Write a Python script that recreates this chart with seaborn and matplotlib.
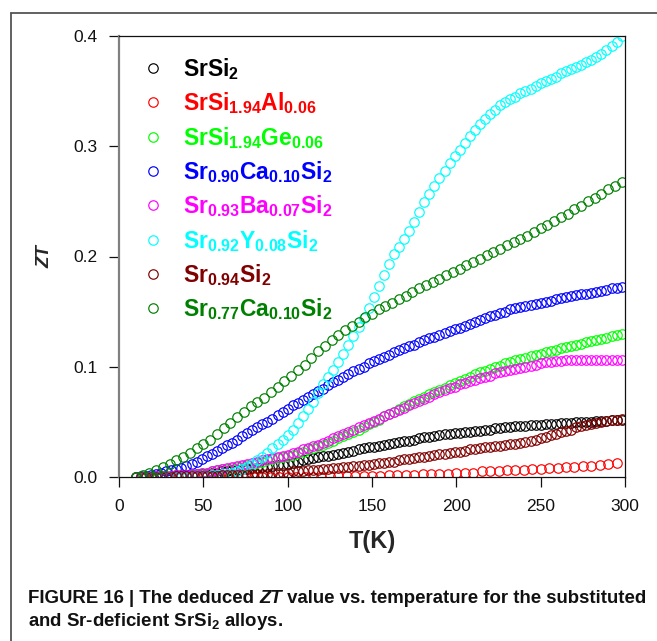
import numpy as np
import pandas as pd
import matplotlib
matplotlib.use("Agg")
import matplotlib.pyplot as plt
from matplotlib.lines import Line2D
from matplotlib.text import Annotation
import seaborn as sns

# ---- measured ZT(T) curves -------------------------------------------------
T3 = np.arange(10, 299, 3)   # 10, 13, ..., 298 K
T4 = np.arange(10, 299, 4)   # 10, 14, ..., 298 K
T5 = np.arange(10, 296, 5)   # 10, 15, ..., 295 K

zt_srsi2 = [
    0.000, 0.000, 0.000, 0.000, 0.001, 0.001, 0.001, 0.001, 0.002, 0.002,
    0.002, 0.002, 0.003, 0.003, 0.003, 0.004, 0.004, 0.005, 0.005, 0.006,
    0.006, 0.007, 0.007, 0.008, 0.008, 0.009, 0.009, 0.010, 0.011, 0.011,
    0.012, 0.013, 0.014, 0.015, 0.016, 0.017, 0.018, 0.019, 0.019, 0.020,
    0.021, 0.022, 0.023, 0.024, 0.025, 0.026, 0.027, 0.027, 0.028, 0.029,
    0.030, 0.031, 0.032, 0.033, 0.033, 0.034, 0.035, 0.036, 0.036, 0.037,
    0.038, 0.039, 0.039, 0.040, 0.040, 0.041, 0.041, 0.042, 0.042, 0.043,
    0.043, 0.044, 0.044, 0.045, 0.045, 0.046, 0.046, 0.046, 0.047, 0.047,
    0.047, 0.048, 0.048, 0.048, 0.049, 0.049, 0.049, 0.050, 0.050, 0.050,
    0.050, 0.051, 0.051, 0.051, 0.052, 0.052, 0.052,
]

zt_al = [
    0.000, 0.000, 0.000, 0.000, 0.000, 0.000, 0.000, 0.000, 0.000, 0.000,
    0.000, 0.000, 0.000, 0.000, 0.000, 0.000, 0.000, 0.000, 0.000, 0.000,
    0.000, 0.000, 0.000, 0.001, 0.001, 0.001, 0.001, 0.001, 0.001, 0.001,
    0.002, 0.002, 0.002, 0.002, 0.003, 0.003, 0.003, 0.003, 0.004, 0.004,
    0.004, 0.005, 0.005, 0.005, 0.006, 0.006, 0.006, 0.007, 0.007, 0.008,
    0.008, 0.009, 0.009, 0.010, 0.010, 0.011, 0.012, 0.013,
]

zt_ge = [
    0.000, 0.000, 0.000, 0.000, 0.001, 0.001, 0.001, 0.001, 0.002, 0.002,
    0.002, 0.003, 0.003, 0.004, 0.004, 0.005, 0.006, 0.007, 0.007, 0.008,
    0.009, 0.010, 0.011, 0.012, 0.013, 0.014, 0.015, 0.016, 0.017, 0.018,
    0.019, 0.020, 0.022, 0.023, 0.025, 0.026, 0.028, 0.029, 0.031, 0.033,
    0.035, 0.037, 0.039, 0.041, 0.043, 0.045, 0.048, 0.050, 0.052, 0.055,
    0.057, 0.059, 0.062, 0.064, 0.066, 0.069, 0.071, 0.073, 0.075, 0.077,
    0.079, 0.081, 0.083, 0.085, 0.087, 0.089, 0.091, 0.093, 0.095, 0.096,
    0.098, 0.100, 0.101, 0.103, 0.104, 0.106, 0.107, 0.108, 0.110, 0.111,
    0.112, 0.113, 0.114, 0.115, 0.117, 0.118, 0.119, 0.120, 0.121, 0.122,
    0.123, 0.124, 0.125, 0.126, 0.128, 0.129, 0.130,
]

zt_ca10 = [
    0.000, 0.001, 0.001, 0.002, 0.003, 0.004, 0.005, 0.006, 0.007, 0.008,
    0.010, 0.012, 0.014, 0.016, 0.019, 0.021, 0.024, 0.026, 0.029, 0.031,
    0.034, 0.037, 0.040, 0.043, 0.045, 0.048, 0.050, 0.053, 0.056, 0.059,
    0.062, 0.065, 0.067, 0.070, 0.073, 0.075, 0.078, 0.080, 0.083, 0.086,
    0.088, 0.091, 0.093, 0.096, 0.098, 0.100, 0.103, 0.105, 0.107, 0.109,
    0.111, 0.113, 0.115, 0.117, 0.119, 0.120, 0.122, 0.124, 0.126, 0.127,
    0.129, 0.131, 0.132, 0.134, 0.135, 0.137, 0.139, 0.141, 0.142, 0.144,
    0.146, 0.147, 0.149, 0.150, 0.152, 0.153, 0.154, 0.155, 0.156, 0.157,
    0.158, 0.159, 0.160, 0.161, 0.162, 0.163, 0.164, 0.165, 0.166, 0.166,
    0.167, 0.168, 0.169, 0.170, 0.171, 0.171, 0.172,
]

zt_ba = [
    0.000, 0.000, 0.000, 0.000, 0.001, 0.001, 0.001, 0.001, 0.002, 0.002,
    0.002, 0.003, 0.003, 0.004, 0.004, 0.005, 0.006, 0.007, 0.008, 0.009,
    0.010, 0.011, 0.012, 0.013, 0.014, 0.015, 0.016, 0.017, 0.018, 0.019,
    0.020, 0.022, 0.023, 0.025, 0.026, 0.028, 0.029, 0.031, 0.033, 0.035,
    0.037, 0.039, 0.041, 0.043, 0.045, 0.047, 0.049, 0.051, 0.053, 0.055,
    0.057, 0.059, 0.061, 0.063, 0.065, 0.067, 0.069, 0.071, 0.073, 0.075,
    0.077, 0.079, 0.081, 0.082, 0.084, 0.085, 0.087, 0.088, 0.090, 0.091,
    0.092, 0.094, 0.095, 0.096, 0.097, 0.098, 0.099, 0.100, 0.101, 0.102,
    0.103, 0.104, 0.104, 0.105, 0.105, 0.106, 0.106, 0.106, 0.106, 0.106,
    0.106, 0.106, 0.106, 0.106, 0.106, 0.106, 0.106,
]

zt_y = [
    0.000, 0.000, 0.000, 0.000, 0.000, 0.000, 0.000, 0.000, 0.000, 0.000,
    0.000, 0.001, 0.001, 0.001, 0.001, 0.002, 0.002, 0.003, 0.003, 0.004,
    0.005, 0.007, 0.009, 0.012, 0.015, 0.018, 0.022, 0.026, 0.030, 0.034,
    0.038, 0.043, 0.049, 0.055, 0.062, 0.068, 0.076, 0.084, 0.091, 0.097,
    0.104, 0.112, 0.120, 0.128, 0.136, 0.144, 0.153, 0.163, 0.173, 0.183,
    0.193, 0.202, 0.209, 0.216, 0.223, 0.231, 0.240, 0.249, 0.257, 0.264,
    0.271, 0.278, 0.285, 0.291, 0.297, 0.303, 0.309, 0.315, 0.320, 0.325,
    0.329, 0.333, 0.337, 0.340, 0.343, 0.345, 0.348, 0.350, 0.352, 0.355,
    0.357, 0.359, 0.361, 0.363, 0.366, 0.368, 0.370, 0.372, 0.374, 0.376,
    0.378, 0.381, 0.384, 0.387, 0.391, 0.395, 0.400,
]

zt_sr94 = [
    0.000, 0.000, 0.000, 0.000, 0.000, 0.000, 0.000, 0.000, 0.001, 0.001,
    0.001, 0.001, 0.001, 0.001, 0.001, 0.001, 0.001, 0.002, 0.002, 0.002,
    0.002, 0.002, 0.002, 0.003, 0.003, 0.003, 0.003, 0.004, 0.004, 0.004,
    0.004, 0.005, 0.005, 0.005, 0.006, 0.006, 0.006, 0.007, 0.007, 0.008,
    0.008, 0.009, 0.009, 0.010, 0.010, 0.011, 0.011, 0.012, 0.013, 0.013,
    0.014, 0.014, 0.015, 0.016, 0.016, 0.017, 0.018, 0.018, 0.019, 0.020,
    0.021, 0.021, 0.022, 0.023, 0.023, 0.024, 0.025, 0.025, 0.026, 0.027,
    0.027, 0.028, 0.028, 0.029, 0.030, 0.030, 0.031, 0.032, 0.033, 0.034,
    0.035, 0.036, 0.038, 0.039, 0.041, 0.042, 0.043, 0.045, 0.046, 0.047,
    0.048, 0.049, 0.050, 0.051, 0.052, 0.052, 0.053,
]

zt_sr77ca10 = [
    0.000, 0.002, 0.004, 0.006, 0.009, 0.012, 0.015, 0.018, 0.022, 0.026,
    0.030, 0.034, 0.039, 0.044, 0.049, 0.054, 0.059, 0.064, 0.068, 0.072,
    0.077, 0.082, 0.087, 0.092, 0.097, 0.102, 0.108, 0.114, 0.119, 0.124,
    0.129, 0.133, 0.137, 0.141, 0.145, 0.148, 0.152, 0.155, 0.158, 0.161,
    0.164, 0.168, 0.171, 0.174, 0.177, 0.180, 0.183, 0.186, 0.189, 0.192,
    0.195, 0.198, 0.201, 0.204, 0.207, 0.210, 0.213, 0.216, 0.219, 0.222,
    0.226, 0.229, 0.232, 0.236, 0.239, 0.243, 0.246, 0.250, 0.253, 0.257,
    0.261, 0.264, 0.268,
]

labels = [
    r"$\mathbf{SrSi_2}$",
    r"$\mathbf{SrSi_{1.94}Al_{0.06}}$",
    r"$\mathbf{SrSi_{1.94}Ge_{0.06}}$",
    r"$\mathbf{Sr_{0.90}Ca_{0.10}Si_2}$",
    r"$\mathbf{Sr_{0.93}Ba_{0.07}Si_2}$",
    r"$\mathbf{Sr_{0.92}Y_{0.08}Si_2}$",
    r"$\mathbf{Sr_{0.94}Si_2}$",
    r"$\mathbf{Sr_{0.77}Ca_{0.10}Si_2}$",
]
colors = ["#000000", "#ff0000", "#00ff00", "#0000ff",
          "#ff00ff", "#00ffff", "#800000", "#008000"]
temps = [T3, T5, T3, T3, T3, T3, T3, T4]
values = [zt_srsi2, zt_al, zt_ge, zt_ca10, zt_ba, zt_y, zt_sr94, zt_sr77ca10]

frames = [pd.DataFrame({"T": t, "ZT": v, "alloy": lab})
          for t, v, lab in zip(temps, values, labels)]
df = pd.concat(frames, ignore_index=True)

# ---- styling ---------------------------------------------------------------
sns.set_theme(style="ticks")
plt.rcParams["font.family"] = ["Liberation Sans", "DejaVu Sans"]
plt.rcParams["mathtext.fontset"] = "custom"
plt.rcParams["mathtext.rm"] = "Liberation Sans"
plt.rcParams["mathtext.bf"] = "Liberation Sans:bold"
plt.rcParams["mathtext.it"] = "Liberation Sans:italic"

W, H = 657, 641
fig = plt.figure(figsize=(W / 100, H / 100), dpi=100)
ax = fig.add_axes([119 / W, 1 - 477 / H, (625 - 119) / W, (477 - 36) / H])

for lab, col in zip(labels, colors):
    sub = df[df["alloy"] == lab]
    sns.lineplot(data=sub, x="T", y="ZT", ax=ax, color=col, marker="o",
                 linestyle="", markersize=6.8, markerfacecolor="none",
                 markeredgecolor=col, markeredgewidth=0.85, label=lab,
                 legend=False)

ax.set_xlim(0, 300)
ax.set_ylim(0, 0.4)
ax.set_xticks([0, 50, 100, 150, 200, 250, 300])
ax.set_yticks([0.0, 0.1, 0.2, 0.3, 0.4])
ax.set_yticklabels(["0.0", "0.1", "0.2", "0.3", "0.4"])
ax.tick_params(axis="both", direction="out", length=7.5, width=0.9,
               labelsize=12.5, pad=8, colors="#111111")
for side in ["top", "right", "bottom"]:
    ax.spines[side].set_color("#111111")
    ax.spines[side].set_linewidth(0.9)
ax.spines["left"].set_color("#808080")
ax.spines["left"].set_linewidth(1.6)

ax.set_xlabel("T(K)", fontsize=17, fontweight="bold", labelpad=12)
ax.set_ylabel("ZT", fontsize=13.5, fontweight="bold", style="italic",
              labelpad=14)

leg = ax.legend(loc="upper left", bbox_to_anchor=(0.0445, 0.955),
                frameon=False, fontsize=16.5, handlelength=1.0,
                handletextpad=0.8, labelspacing=0.37, borderaxespad=0,
                borderpad=0, labelcolor="linecolor")

# ---- figure frame and caption ---------------------------------------------
frame_kw = dict(color="#555555", linewidth=1.3, transform=fig.transFigure)
fig.add_artist(Line2D([11 / W, 1.0], [1 - 13 / H, 1 - 13 / H], **frame_kw))
fig.add_artist(Line2D([11 / W, 11 / W], [1 - 13 / H, 0.0], **frame_kw))

cap_kw = dict(fontsize=13.4, fontweight="bold", color="#111111",
              family=["Liberation Sans"])
t1 = fig.text(28 / W, 1 - 603 / H, "FIGURE 16 | The deduced ",
              va="baseline", ha="left", **cap_kw)
t2 = Annotation("ZT", xy=(1, 0), xycoords=t1, va="bottom", ha="left",
                style="italic", annotation_clip=False, **cap_kw)
fig.add_artist(t2)
t3 = Annotation(" value vs. temperature for the substituted", xy=(1, 0),
                xycoords=t2, va="bottom", ha="left", annotation_clip=False,
                **cap_kw)
fig.add_artist(t3)
fig.text(28 / W, 1 - 626 / H, r"and Sr-deficient SrSi$_\mathbf{2}$ alloys.",
         va="baseline", ha="left", **cap_kw)

fig.savefig("out.png", dpi=100)
